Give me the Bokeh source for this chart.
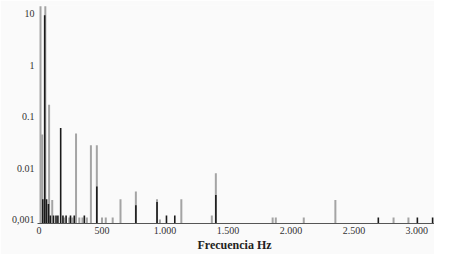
from bokeh.plotting import figure
from bokeh.models import FixedTicker, Range1d, ColumnDataSource
from bokeh.embed import file_html
from bokeh.resources import INLINE

# Gray series (frequency Hz, amplitude)
gray_freq = [12, 25, 50, 80, 105, 200, 240, 265, 294, 320, 345, 380, 412, 459, 500, 530, 585,
             647, 769, 937, 960, 1130, 1372, 1404, 1855, 1880, 2102, 2353, 2815, 2933, 3160]
gray_amp = [14, 0.045, 14, 0.17, 0.0024, 0.0011, 0.0011, 0.0011, 0.047, 0.0011, 0.0011, 0.0011,
            0.028, 0.028, 0.0011, 0.0011, 0.0011, 0.0025, 0.0035, 0.0025, 0.001, 0.0025,
            0.0012, 0.008, 0.0011, 0.0011, 0.0011, 0.0024, 0.0011, 0.0011, 0.0011]

# Black series
black_freq = [30, 45, 60, 75, 90, 115, 135, 150, 172, 190, 215, 250, 280, 360, 459, 769, 937,
              1012, 1078, 1404, 2694, 3004, 3125]
black_amp = [0.0025, 9.4, 0.0025, 0.002, 0.0012, 0.0012, 0.0012, 0.0012, 0.06, 0.0012, 0.0012,
             0.0012, 0.0012, 0.0012, 0.0044, 0.0019, 0.0022, 0.0012, 0.0012, 0.003, 0.0011,
             0.0011, 0.0011]

x_ticks = [0, 500, 1000, 1500, 2000, 2500, 3000]
x_tick_labels = ["0", "500", "1.000", "1.500", "2.000", "2.500", "3.000"]
y_ticks = [0.001, 0.01, 0.1, 1, 10]
y_tick_labels = ["0,001", "0.01", "0.1", "1", "10"]

Y_MIN, Y_MAX = 0.00084, 14.5

p = figure(width=434, height=254, output_backend="svg", toolbar_location=None,
           y_axis_type="log", x_range=Range1d(-12, 3140), y_range=Range1d(Y_MIN, Y_MAX),
           min_border_left=37, min_border_right=0, min_border_top=5, min_border_bottom=0)
p.background_fill_color = "#fafafa"
p.border_fill_color = "#fafafa"
p.outline_line_color = None
p.grid.visible = False

gsrc = ColumnDataSource(dict(f=gray_freq, v=gray_amp))
bsrc = ColumnDataSource(dict(f=black_freq, v=black_amp))
p.segment(x0="f", y0=Y_MIN, x1="f", y1="v", source=gsrc, line_color="#a4a4a4", line_width=2)
p.segment(x0="f", y0=Y_MIN, x1="f", y1="v", source=bsrc, line_color="#1a1a1a", line_width=1.6)

font = "Liberation Serif"
xa = p.xaxis[0]
xa.ticker = FixedTicker(ticks=x_ticks)
xa.major_label_overrides = {t: l for t, l in zip(x_ticks, x_tick_labels)}
xa.axis_label = "Frecuencia  Hz"
xa.axis_label_text_font = font
xa.axis_label_text_font_style = "bold"
xa.axis_label_text_font_size = "12px"
xa.axis_label_text_color = "#222222"
xa.axis_label_standoff = 1
xa.axis_line_color = "#555555"
xa.axis_line_width = 1

ya = p.yaxis[0]
ya.ticker = FixedTicker(ticks=y_ticks)
ya.major_label_overrides = {t: l for t, l in zip(y_ticks, y_tick_labels)}
ya.axis_line_color = None

for ax in (xa, ya):
    ax.major_tick_line_color = None
    ax.minor_tick_line_color = None
    ax.major_tick_out = 0
    ax.major_tick_in = 0
    ax.minor_tick_out = 0
    ax.minor_tick_in = 0
    ax.major_label_text_font = font
    ax.major_label_text_font_size = "10px"
    ax.major_label_text_color = "#333333"
    ax.major_label_standoff = 3

open("out.html", "w").write(file_html(p, INLINE))
